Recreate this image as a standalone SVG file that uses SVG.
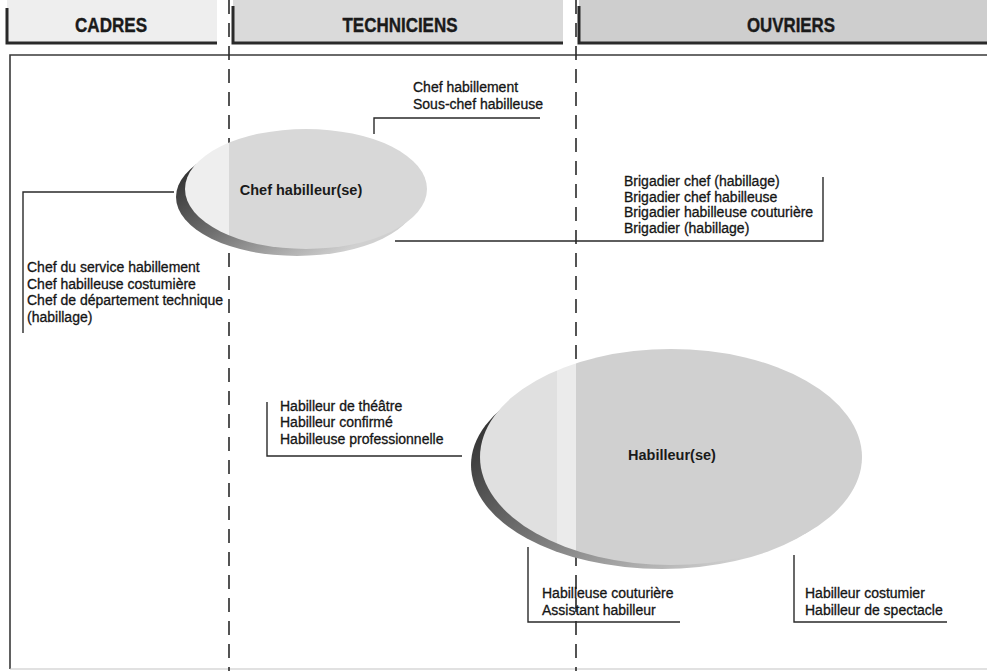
<svg xmlns="http://www.w3.org/2000/svg" width="987" height="671" viewBox="0 0 987 671">
  <style>
    .hdr { font-family: "Liberation Sans", Arial, sans-serif; font-weight: bold; font-size: 20px; fill: #1a1a1a; stroke: #1a1a1a; stroke-width: 0.4; text-anchor: middle; }
    .lbl { font-family: "Liberation Sans", Arial, sans-serif; font-size: 14px; fill: #151515; stroke: #151515; stroke-width: 0.3; }
    .ttl { font-family: "Liberation Sans", Arial, sans-serif; font-weight: bold; font-size: 14.5px; fill: #1a1a1a; text-anchor: middle; }
    .bar { stroke: #2a2a2a; stroke-width: 3; fill: none; }
    .link { stroke: #2a2a2a; stroke-width: 1.4; fill: none; }
    .frame { stroke: #3a3a3a; stroke-width: 1.6; fill: none; }
    .divider { stroke: #2a2a2a; stroke-width: 1.6; stroke-dasharray: 14 9; fill: none; }
  </style>
  <defs>
    <linearGradient id="shade" x1="0" y1="0.3" x2="0.75" y2="0.9">
      <stop offset="0" stop-color="#303030"/>
      <stop offset="0.45" stop-color="#707070"/>
      <stop offset="1" stop-color="#d0d0d0"/>
    </linearGradient>
    <clipPath id="clipChef">
      <ellipse cx="306" cy="189" rx="121" ry="60"/>
    </clipPath>
    <clipPath id="clipHab">
      <ellipse cx="671" cy="457" rx="191" ry="108"/>
    </clipPath>
  </defs>

  <rect width="987" height="671" fill="#ffffff"/>

  <!-- column headers -->
  <g id="header-cadres">
    <rect x="7" y="0" width="210" height="43" fill="#eeeeee"/>
    <path class="bar" d="M7,8 V43 H217"/>
    <text class="hdr" x="111" y="32" textLength="72" lengthAdjust="spacingAndGlyphs">CADRES</text>
  </g>
  <g id="header-techniciens">
    <rect x="233" y="0" width="330" height="43" fill="#dadada"/>
    <path class="bar" d="M233,6 V43 H563"/>
    <text class="hdr" x="400" y="32" textLength="115" lengthAdjust="spacingAndGlyphs">TECHNICIENS</text>
  </g>
  <g id="header-ouvriers">
    <rect x="579" y="0" width="408" height="43" fill="#cecece"/>
    <path class="bar" d="M579,6 V43 H987"/>
    <text class="hdr" x="791" y="32" textLength="88" lengthAdjust="spacingAndGlyphs">OUVRIERS</text>
  </g>

  <!-- frame and column dividers -->
  <g id="frame">
    <path class="frame" d="M10,669 V55 H987"/>
    <path d="M10,669 H987" stroke="#c4c4c4" stroke-width="1.2" fill="none"/>
    <path class="divider" d="M229,0 V671"/>
    <path class="divider" d="M576,0 V671"/>
  </g>

  <!-- connectors -->
  <g id="connectors">
    <path class="link" d="M540,118 H374 V134"/>
    <path class="link" d="M174,192 H23 V333"/>
    <path class="link" d="M823,177 V241 H395"/>
    <path class="link" d="M267,402 V456 H462"/>
    <path class="link" d="M528,547 V622 H680"/>
    <path class="link" d="M794,555 V622 H947"/>
  </g>

  <!-- node: Chef habilleur(se) -->
  <g id="node-chef-habilleur">
    <ellipse cx="297" cy="197" rx="121" ry="59" fill="url(#shade)"/>
    <g clip-path="url(#clipChef)">
      <rect x="180" y="125" width="49" height="130" fill="#eeeeee"/>
      <rect x="229" y="125" width="200" height="130" fill="#d8d8d8"/>
    </g>
    <text class="ttl" x="301" y="195">Chef habilleur(se)</text>
  </g>

  <!-- node: Habilleur(se) -->
  <g id="node-habilleur">
    <ellipse cx="662" cy="465" rx="191" ry="104" fill="url(#shade)"/>
    <g clip-path="url(#clipHab)">
      <rect x="475" y="345" width="82" height="225" fill="#e0e0e0"/>
      <rect x="557" y="345" width="19" height="225" fill="#ebebeb"/>
      <rect x="576" y="345" width="290" height="225" fill="#d0d0d0"/>
    </g>
    <text class="ttl" x="672" y="460">Habilleur(se)</text>
  </g>

  <!-- job title lists -->
  <g id="list-techniciens-haut">
    <text class="lbl" x="413" y="92">Chef habillement</text>
    <text class="lbl" x="413" y="108.5">Sous-chef habilleuse</text>
  </g>
  <g id="list-brigadiers">
    <text class="lbl" x="624" y="186">Brigadier chef (habillage)</text>
    <text class="lbl" x="624" y="201.5">Brigadier chef habilleuse</text>
    <text class="lbl" x="624" y="217">Brigadier habilleuse couturière</text>
    <text class="lbl" x="624" y="232.5">Brigadier (habillage)</text>
  </g>
  <g id="list-cadres">
    <text class="lbl" x="27" y="272">Chef du service habillement</text>
    <text class="lbl" x="27" y="288.5">Chef habilleuse costumière</text>
    <text class="lbl" x="27" y="305">Chef de département technique</text>
    <text class="lbl" x="27" y="321.5">(habillage)</text>
  </g>
  <g id="list-habilleurs-techniciens">
    <text class="lbl" x="280" y="411">Habilleur de théâtre</text>
    <text class="lbl" x="280" y="427">Habilleur confirmé</text>
    <text class="lbl" x="280" y="443.5">Habilleuse professionnelle</text>
  </g>
  <g id="list-habilleurs-bas">
    <text class="lbl" x="542" y="598">Habilleuse couturière</text>
    <text class="lbl" x="542" y="614.5">Assistant habilleur</text>
  </g>
  <g id="list-habilleurs-ouvriers">
    <text class="lbl" x="805" y="598">Habilleur costumier</text>
    <text class="lbl" x="805" y="614.5">Habilleur de spectacle</text>
  </g>
</svg>
